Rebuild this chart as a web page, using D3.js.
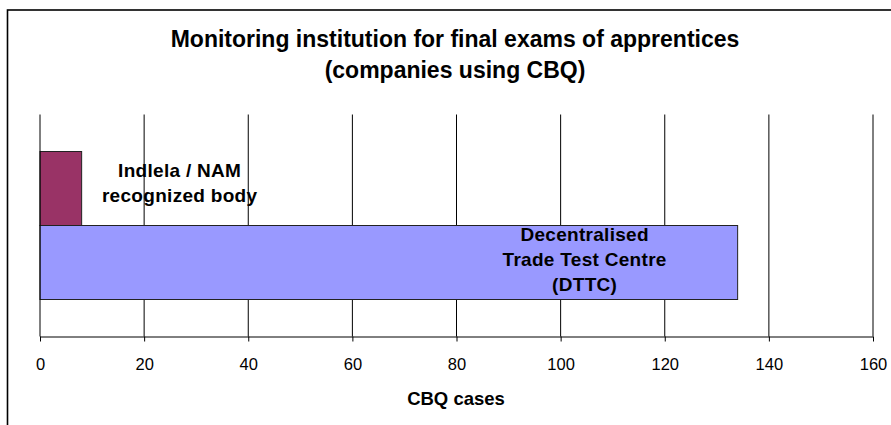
<!DOCTYPE html>
<html lang="en">
<head>
  <meta charset="UTF-8" />
  <title>Monitoring institution</title>
  <style>
    body {
      margin: 0;
      background: #fff;
    }
    svg {
      display: block;
      font-family: "Liberation Sans", Arial, sans-serif;
    }
  </style>
</head>
<body>
  <svg id="chart" width="891" height="425"></svg>

  <script src="https://d3js.org/d3.v7.min.js"></script>
  <script>
    // data
    const series = ["Indlela / NAM recognized body", "Decentralised Trade Test Centre (DTTC)"];
    const values = [8, 134];
    const colors = ["#993366", "#9999ff"];
    const labelLines = [
      ["Indlela / NAM", "recognized body"],
      ["Decentralised", "Trade Test Centre", "(DTTC)"]
    ];
    const ticks = [0, 20, 40, 60, 80, 100, 120, 140, 160];
    const titleLines = ["Monitoring institution for final exams of apprentices", "(companies using CBQ)"];
    const axisTitle = "CBQ cases";

    const svg = d3.select("#chart");

    // chart area border (runs off the right and bottom edge)
    svg.append("rect")
      .attr("x", 7.5).attr("y", 10)
      .attr("width", 900).attr("height", 430)
      .attr("fill", "#fff")
      .attr("stroke", "#000")
      .attr("stroke-width", 1.6);

    const plot = { left: 40, right: 873, top: 114.5, bottom: 336.5 };

    const x = d3.scaleLinear().domain([0, 160]).range([plot.left, plot.right]);
    const y = d3.scaleBand().domain(series).range([plot.top, plot.bottom])
      .paddingInner(0).paddingOuter(0.5);

    // gridlines
    svg.append("g")
      .selectAll("line")
      .data(ticks.slice(1))
      .join("line")
      .attr("x1", d => x(d)).attr("x2", d => x(d))
      .attr("y1", plot.top).attr("y2", plot.bottom)
      .attr("stroke", "#000")
      .attr("stroke-width", 1);

    // bars
    svg.append("g")
      .selectAll("rect")
      .data(values)
      .join("rect")
      .attr("x", x(0))
      .attr("y", (d, i) => y(series[i]))
      .attr("width", d => x(d) - x(0))
      .attr("height", y.bandwidth())
      .attr("fill", (d, i) => colors[i])
      .attr("stroke", "#222")
      .attr("stroke-width", 1);

    // x axis
    const xAxis = d3.axisBottom(x).tickValues(ticks).tickSize(5).tickPadding(17);
    const ax = svg.append("g")
      .attr("transform", `translate(0,${plot.bottom})`)
      .call(xAxis);
    ax.select(".domain").attr("stroke", "#000").attr("d", `M${plot.left},0.5H${plot.right}`);
    ax.selectAll(".tick line").attr("stroke", "#000");
    ax.selectAll(".tick text")
      .attr("fill", "#000")
      .style("font-size", "16.5px")
      .style("font-family", "'Liberation Sans', Arial, sans-serif");

    // y axis line
    svg.append("line")
      .attr("x1", plot.left).attr("x2", plot.left)
      .attr("y1", plot.top).attr("y2", plot.bottom)
      .attr("stroke", "#000");

    // bar labels
    const labelX = [x(values[0]) + 98, x(values[1]) - 153];
    const labelDy = [[-12, 13], [-21.5, 3.5, 28.5]];
    labelLines.forEach((lines, i) => {
      const cy = y(series[i]) + y.bandwidth() / 2;
      svg.append("text")
        .attr("text-anchor", "middle")
        .style("font-size", "19px")
        .style("font-weight", "bold")
        .style("letter-spacing", "0.3px")
        .selectAll("tspan")
        .data(lines)
        .join("tspan")
        .attr("x", labelX[i])
        .attr("y", (d, j) => cy + labelDy[i][j])
        .text(d => d);
    });

    // title
    svg.append("text")
      .attr("text-anchor", "middle")
      .style("font-size", "23px")
      .style("font-weight", "bold")
      .selectAll("tspan")
      .data(titleLines)
      .join("tspan")
      .attr("x", 455)
      .attr("y", (d, i) => 47 + i * 31)
      .text(d => d);

    // axis title
    svg.append("text")
      .attr("x", 456).attr("y", 405)
      .attr("text-anchor", "middle")
      .style("font-size", "18.5px")
      .style("font-weight", "bold")
      .text(axisTitle);
  </script>
</body>
</html>
